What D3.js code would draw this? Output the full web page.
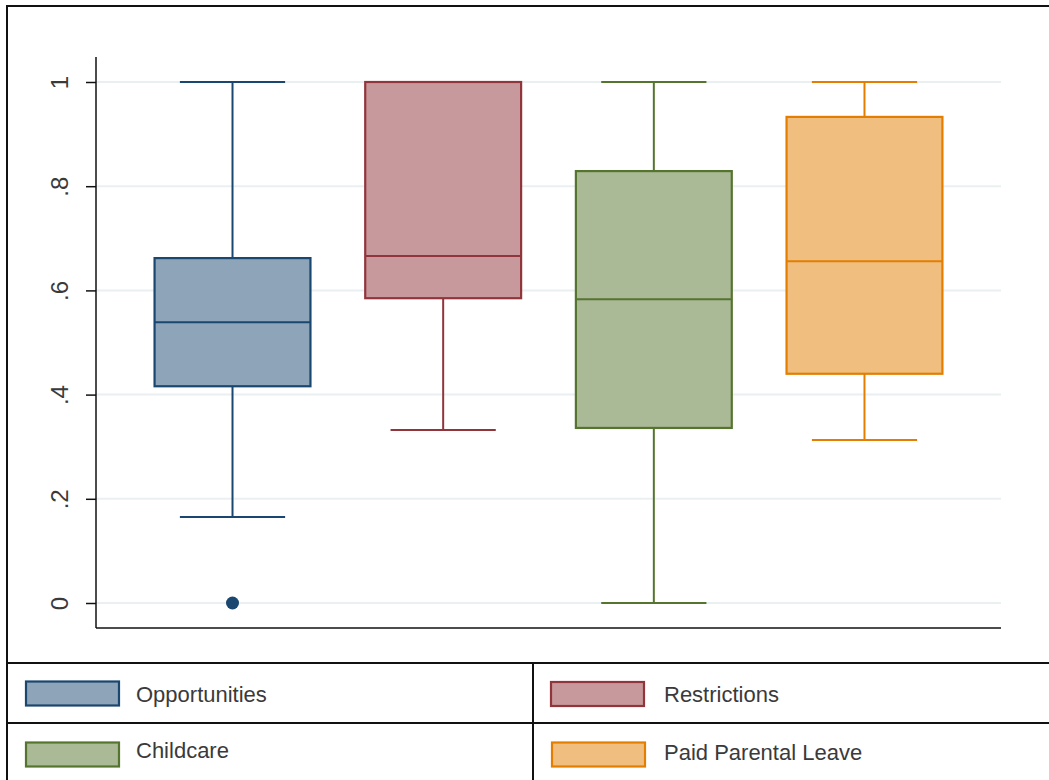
<!DOCTYPE html>
<html>
<head>
<meta charset="utf-8">
<script src="https://d3js.org/d3.v7.min.js"></script>
<style>
  html, body { margin: 0; padding: 0; background: #fff; }
  svg { display: block; }
  text { font-family: "Liberation Sans", Arial, Helvetica, sans-serif; fill: #333; }
</style>
</head>
<body>
<svg id="chart" width="1049" height="780"></svg>
<script>
// Box-plot summaries per category
const categories = ["Opportunities", "Restrictions", "Childcare", "Paid Parental Leave"];
const lowerWhisker = [0.165, 0.332, 0.0, 0.313];
const q1Values     = [0.416, 0.585, 0.336, 0.440];
const medians      = [0.539, 0.666, 0.583, 0.656];
const q3Values     = [0.662, 1.0, 0.829, 0.933];
const upperWhisker = [1.0, 1.0, 1.0, 1.0];
const outlierCategory = ["Opportunities"];
const outlierValues   = [0.0];
const yTicks      = [0, 0.2, 0.4, 0.6, 0.8, 1];
const yTickLabels = ["0", ".2", ".4", ".6", ".8", "1"];

const strokeColors = ["#1a476f", "#90353b", "#55752f", "#e37e00"];
const fillColors   = ["#8ea4b8", "#c8999c", "#aab996", "#f0bf80"];

const svg = d3.select("#chart");
const W = 1049, H = 780;

const plot = { left: 96, right: 1001, top: 57, bottom: 628 };

const x = d3.scalePoint().domain(categories).range([plot.left, plot.right]).padding(0.648);
const y = d3.scaleLinear().domain([0, 1]).range([603, 82]);

const step = x.step();
const boxW = step * 0.74;
const capW = boxW * 0.675;

// outer frame (top and left edges visible)
svg.append("path")
  .attr("d", `M7,${H} L7,6 L${W},6`)
  .attr("fill", "none").attr("stroke", "#111").attr("stroke-width", 2);

// gridlines
svg.append("g").selectAll("line").data(yTicks).join("line")
  .attr("x1", plot.left).attr("x2", plot.right)
  .attr("y1", d => y(d)).attr("y2", d => y(d))
  .attr("stroke", "#eaf0f2").attr("stroke-width", 2);

// y axis
const yAxis = d3.axisLeft(y).tickValues(yTicks).tickFormat((d, i) => yTickLabels[i]).tickSize(10).tickPadding(0);
const gy = svg.append("g").attr("transform", `translate(${plot.left},0)`).call(yAxis)
  .attr("font-size", 24).attr("font-family", null);
gy.select(".domain").remove();
gy.selectAll(".tick line").attr("stroke", "#111").attr("stroke-width", 1.5);
gy.selectAll(".tick text")
  .attr("x", 0).attr("dy", null)
  .attr("transform", "translate(-37,0) rotate(-90)")
  .attr("text-anchor", "middle")
  .attr("dominant-baseline", "central")
  .attr("fill", "#3a3a3a")
  .style("font-size", "24px").style("fill", "#3a3a3a");
svg.append("line").attr("x1", plot.left).attr("x2", plot.left)
  .attr("y1", plot.top).attr("y2", plot.bottom).attr("stroke", "#111").attr("stroke-width", 1.5);
// x axis baseline
svg.append("line").attr("x1", plot.left).attr("x2", plot.right)
  .attr("y1", plot.bottom).attr("y2", plot.bottom).attr("stroke", "#111").attr("stroke-width", 1.5);

// boxes
const data = categories.map((c, i) => ({
  c, i, lo: lowerWhisker[i], q1: q1Values[i], med: medians[i], q3: q3Values[i], hi: upperWhisker[i]
}));

const g = svg.append("g").selectAll("g").data(data).join("g");
g.each(function(d) {
  const el = d3.select(this);
  const cx = x(d.c);
  const col = strokeColors[d.i];
  // whiskers
  el.append("line").attr("x1", cx).attr("x2", cx).attr("y1", y(d.q1)).attr("y2", y(d.lo))
    .attr("stroke", col).attr("stroke-width", 2);
  el.append("line").attr("x1", cx).attr("x2", cx).attr("y1", y(d.q3)).attr("y2", y(d.hi))
    .attr("stroke", col).attr("stroke-width", 2);
  // caps
  [d.lo, d.hi].forEach(v => {
    el.append("line").attr("x1", cx - capW / 2).attr("x2", cx + capW / 2)
      .attr("y1", y(v)).attr("y2", y(v)).attr("stroke", col).attr("stroke-width", 2);
  });
  // box
  el.append("rect").attr("x", cx - boxW / 2).attr("width", boxW)
    .attr("y", y(d.q3)).attr("height", y(d.q1) - y(d.q3))
    .attr("fill", fillColors[d.i]).attr("stroke", col).attr("stroke-width", 2.2);
  // median
  el.append("line").attr("x1", cx - boxW / 2).attr("x2", cx + boxW / 2)
    .attr("y1", y(d.med)).attr("y2", y(d.med)).attr("stroke", col).attr("stroke-width", 2);
});

// outliers
svg.append("g").selectAll("circle").data(outlierValues).join("circle")
  .attr("cx", (d, i) => x(outlierCategory[i]))
  .attr("cy", d => y(d))
  .attr("r", 6.5)
  .attr("fill", (d, i) => strokeColors[categories.indexOf(outlierCategory[i])]);

// legend grid
const legTop = 663, legMid = 723, legSplit = 533;
const lg = svg.append("g");
[legTop, legMid].forEach(ly => {
  lg.append("line").attr("x1", 7).attr("x2", W).attr("y1", ly).attr("y2", ly)
    .attr("stroke", "#111").attr("stroke-width", 2);
});
lg.append("line").attr("x1", legSplit).attr("x2", legSplit).attr("y1", legTop).attr("y2", H)
  .attr("stroke", "#111").attr("stroke-width", 2);

const legendPos = [
  { sx: 26, cy: 693.5, tx: 136, base: 701.5 },
  { sx: 551, cy: 694, tx: 664, base: 701.5 },
  { sx: 26, cy: 754.5, tx: 136, base: 758 },
  { sx: 552, cy: 754.5, tx: 664, base: 760 }
];
categories.forEach((c, i) => {
  const p = legendPos[i];
  lg.append("rect").attr("x", p.sx).attr("y", p.cy - 12).attr("width", 93).attr("height", 24)
    .attr("fill", fillColors[i]).attr("stroke", strokeColors[i]).attr("stroke-width", 2.2);
  lg.append("text").attr("x", p.tx).attr("y", p.base)
    .style("font-size", "22px").style("fill", "#3a3a3a").text(c);
});
</script>
</body>
</html>
